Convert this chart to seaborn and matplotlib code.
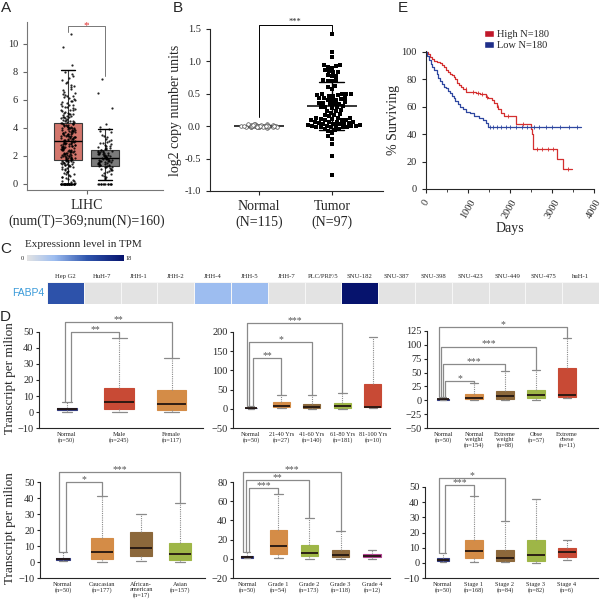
import numpy as np
import pandas as pd
import matplotlib
matplotlib.use('Agg')
import matplotlib.pyplot as plt
import seaborn as sns
from matplotlib.colors import LinearSegmentedColormap
from matplotlib.patches import Patch
from matplotlib.ticker import MultipleLocator

# ---------------- data ----------------
# A: GEPIA LIHC box plot (min, q1, median, q3, max) and jittered points
a_groups = ['Tumor', 'Normal']
a_tumor_box = [0.0, 1.7, 3.05, 4.35, 8.15]
a_normal_box = [0.3, 1.3, 1.85, 2.45, 3.95]
a_tumor_points = [0, 0, 0, 0, 0, 0, 0, 0, 0, 0, 0, 0, 0, 0, 0, 0, 0, 0, 0, 0, 0, 0,
                  0, 0, 0, 0, 0, 0, 0, 0,
                  0.08, 0.15, 0.22, 0.3, 0.41, 0.48, 0.57, 0.63, 0.72, 0.8, 0.86, 0.95,
                  1.03, 1.1, 1.16, 1.21, 1.28, 1.33, 1.37, 1.44, 1.48, 1.52, 1.57, 1.61,
                  1.64, 1.69, 1.72, 1.76, 1.8, 1.84, 1.87, 1.91, 1.95, 1.98, 2.03, 2.06,
                  2.1, 2.14, 2.17, 2.21, 2.26, 2.3, 2.33, 2.38, 2.42, 2.46, 2.5, 2.55,
                  2.59, 2.62, 2.67, 2.71, 2.74, 2.79, 2.83, 2.88, 2.92, 2.96, 3.01, 3.05,
                  3.1, 3.14, 3.19, 3.23, 3.28, 3.32, 3.37, 3.42, 3.46, 3.51, 3.55, 3.6,
                  3.66, 3.7, 3.75, 3.81, 3.86, 3.92, 3.97, 4.03, 4.09, 4.15, 4.22, 4.28,
                  4.35, 4.41, 4.49, 4.56, 4.64, 4.72, 4.8, 4.89, 4.97, 5.06, 5.15, 5.26,
                  5.36, 5.48, 5.6, 5.72, 5.85, 5.98, 6.12, 6.27, 6.43, 6.6, 6.78, 6.97,
                  7.18, 7.42, 7.7, 8.0, 8.5, 9.8, 10.7,
                  1.54, 1.66, 1.78, 1.89, 2.0, 2.12, 2.24, 2.35, 2.47, 2.57, 2.69, 2.81,
                  2.9, 3.03, 3.12, 3.25, 3.35, 3.44, 3.57, 3.68, 3.78, 3.9, 4.0, 4.12,
                  4.25, 4.38, 4.52, 4.68, 4.85, 5.02, 5.2, 5.4, 5.66, 5.9, 6.2, 6.5,
                  1.4, 1.62, 1.83, 2.08, 2.28, 2.52, 2.76, 2.98, 3.16, 3.4, 3.63, 3.84,
                  4.06, 4.3,
                  0.18, 0.36, 0.52, 0.69, 0.88, 1.06, 1.19, 1.35, 1.46, 1.59, 1.74, 1.86,
                  1.97, 2.11, 2.2, 2.32, 2.44, 2.61, 2.7, 2.85, 2.95, 3.07, 3.2, 3.31,
                  3.45, 3.53, 3.65, 3.74, 3.88, 3.99, 4.1, 4.2, 4.33, 4.46, 4.6, 4.77,
                  4.93, 5.1, 5.31, 5.52, 5.77, 6.05, 6.35, 6.7, 7.05, 7.55, 1.25, 1.5,
                  1.7, 1.93, 2.16, 2.4, 2.64, 2.87, 3.09, 3.34, 3.58, 3.79, 4.01, 4.24,
                  4.5, 4.75, 5.0, 5.3, 5.62, 5.95, 6.3, 6.9, 7.3, 7.85]
a_normal_points = [0, 0, 0, 0, 0, 0, 0, 0, 0, 0, 0, 0,
                   0.32, 0.45, 0.58, 0.66, 0.74, 0.82, 0.9, 0.97,
                   1.04, 1.1, 1.15, 1.2, 1.24, 1.29, 1.33, 1.37, 1.41, 1.45, 1.49, 1.53,
                   1.57, 1.61, 1.65, 1.69, 1.73, 1.77, 1.81, 1.85, 1.89, 1.93, 1.97, 2.01,
                   2.05, 2.1, 2.14, 2.19, 2.24, 2.29, 2.34, 2.4, 2.46, 2.53, 2.6, 2.68,
                   2.77, 2.86, 2.96, 3.07, 3.2, 3.35, 3.52, 3.7, 3.9, 4.1, 4.3, 5.4, 6.5,
                   7.5, 1.3, 1.5, 1.7, 1.9, 2.2, 2.5, 1.6, 1.8, 2.0, 2.3,
                   0.5, 0.78, 1.02, 1.18, 1.35, 1.44, 1.56, 1.67, 1.75, 1.84, 1.95, 2.07,
                   2.16, 2.27, 2.38, 2.55, 2.72, 2.9, 3.12, 3.45, 1.26, 1.62, 1.87, 2.12,
                   2.36, 2.63, 3.0, 3.8]

# B: log2 copy number
b_groups = ['Normal', 'Tumor']
b_labels = ['Normal\n(N=115)', 'Tumor\n(N=97)']
b_normal = [0.0, 0.01, -0.01, 0.02, -0.02, 0.0, 0.03, -0.01, 0.01, 0.0, 0.02, -0.02,
            0.01, 0.0, -0.01, 0.03, 0.02, 0.0, -0.03, 0.01, 0.0, 0.02, -0.01, 0.01,
            0.0, 0.04, -0.02, 0.0, 0.01, -0.01, 0.02, 0.0, 0.01, -0.02, 0.03, 0.0,
            -0.01, 0.01, 0.02, 0.0, -0.01, 0.0, 0.01, 0.02, -0.02]
b_tumor = [1.43, 1.14, 1.07, 0.95, 0.94, 0.93, 0.91, 0.90, 0.86, 0.85, 0.84, 0.83,
           0.79, 0.78, 0.77, 0.72, 0.71, 0.70, 0.69, 0.62, 0.60, 0.57,
           0.50, 0.50, 0.49, 0.49, 0.48, 0.48, 0.47, 0.46,
           0.44, 0.43, 0.43, 0.42, 0.41, 0.40, 0.40,
           0.37, 0.36, 0.36, 0.35, 0.35, 0.34, 0.31, 0.30, 0.30, 0.29, 0.28,
           0.25, 0.24, 0.23, 0.21, 0.19, 0.18, 0.17, 0.15,
           0.13, 0.12, 0.12, 0.11, 0.11, 0.10, 0.10, 0.09, 0.09,
           0.07, 0.07, 0.06, 0.06, 0.05, 0.05, 0.04, 0.04, 0.04, 0.03,
           0.02, 0.02, 0.01, 0.01, 0.00, 0.00, 0.00, -0.01, -0.01, -0.01, -0.02, -0.02,
           -0.04, -0.05, -0.06, -0.07, -0.11, -0.15, -0.19, -0.27, -0.46, -0.75]

# C: FABP4 expression in cell lines (TPM)
cell_lines = ['Hep G2', 'HuH-7', 'JHH-1', 'JHH-2', 'JHH-4', 'JHH-5', 'JHH-7',
              'PLC/PRF/5', 'SNU-182', 'SNU-387', 'SNU-398', 'SNU-423', 'SNU-449',
              'SNU-475', 'huH-1']
fabp4_tpm = [11.5, 0, 0, 0, 5.0, 5.0, 0, 0, 18, 0, 0, 0, 0, 0, 0]

# D: UALCAN box plots, each group = (min, q1, median, q3, max)
sex_groups = ['Normal\n(n=50)', 'Male\n(n=245)', 'Female\n(n=117)']
sex_stats = [[0, 1, 2, 2.7, 6.3], [0, 2, 6, 15, 46], [0, 1.3, 4.7, 13.7, 33.5]]
age_groups = ['Normal\n(n=50)', '21-40 Yrs\n(n=27)', '41-60 Yrs\n(n=140)',
              '61-80 Yrs\n(n=181)', '81-100 Yrs\n(n=10)']
age_stats = [[0, 1, 2, 3, 7], [2, 5, 7, 17, 37], [0, 2, 5, 12, 37],
             [0, 3, 8, 15, 42], [2, 4, 5, 64, 188]]
weight_groups = ['Normal\n(n=50)', 'Normal\nweight\n(n=154)', 'Extreme\nweight\n(n=88)',
                 'Obse\n(n=57)', 'Extreme\nobese\n(n=11)']
weight_stats = [[0, 1, 2, 3, 6], [0, 2, 5, 11, 31], [0, 3, 8, 17, 52],
                [0, 4, 9.5, 19, 54], [3.5, 6, 10, 58, 112]]
race_groups = ['Normal\n(n=50)', 'Caucasian\n(n=177)', 'African-\namerican\n(n=17)',
               'Asian\n(n=157)']
race_stats = [[0.5, 1, 1.8, 2.5, 6.5], [0, 2, 6.2, 15, 41.5], [0.5, 4, 8.5, 18.8, 30],
              [0, 1.5, 4.8, 12, 37]]
grade_groups = ['Normal\n(n=50)', 'Grade 1\n(n=54)', 'Grade 2\n(n=173)',
                'Grade 3\n(n=118)', 'Grade 4\n(n=12)']
grade_stats = [[0.5, 1, 2, 3, 7], [0.5, 4.5, 13, 30, 67], [0, 2.5, 6.5, 14, 42],
               [0, 1.5, 4, 9.5, 29], [0, 1.5, 2.5, 4.5, 9.5]]
stage_groups = ['Normal\n(n=50)', 'Stage 1\n(n=168)', 'Stage 2\n(n=84)',
                'Stage 3\n(n=82)', 'Stage 4\n(n=6)']
stage_stats = [[0.5, 1.2, 2, 3, 6.5], [0.5, 3, 8, 15, 44], [0.5, 1.5, 3.2, 8.5, 27.5],
               [0, 1, 5, 15, 42], [2, 4, 7, 9.5, 15]]

# E: Kaplan-Meier steps
high_days = [0, 40, 90, 140, 200, 260, 330, 380, 430, 480, 520, 570, 620, 660, 700,
             740, 780, 840, 890, 960, 1200, 1290, 1420, 1480, 1560, 1620, 1680, 1720,
             1780, 1850, 2140, 2490, 2520, 2550, 3130, 3260, 3480]
high_surv = [100, 98, 96, 95, 93.5, 92.5, 91.5, 90, 88.5, 87, 85.5, 84, 83, 81.5, 80,
             77.5, 75.5, 74, 73, 71, 70, 69, 67, 66, 64.5, 62.5, 60, 58, 55.5, 53.5,
             47, 44, 40, 29, 21.5, 14.5, 14.5]
low_days = [0, 30, 70, 110, 150, 200, 250, 290, 330, 380, 420, 470, 530, 580, 620, 660,
            700, 750, 800, 870, 950, 1050, 1150, 1250, 1350, 1420, 1480, 3680]
low_surv = [100, 97, 94, 91, 89, 86.5, 84, 81, 79, 76.5, 74.5, 73.5, 71.5, 70, 68, 66,
            64, 62, 59.5, 58, 56, 55, 53.5, 52, 50, 48, 45.5, 45.5]
high_censor = [950, 1120, 1240, 1330, 1460, 1710, 1950, 2300, 2650, 2750, 2900, 3020, 3380]
low_censor = [1520, 1600, 1680, 1790, 1900, 2010, 2150, 2290, 2400, 2560, 2700, 2850,
              3000, 3200, 3400, 3600]

# ---------------- style ----------------
sns.set_style('ticks')
plt.rcParams['font.family'] = ['Liberation Serif', 'DejaVu Serif']
plt.rcParams['axes.linewidth'] = 0.8
plt.rcParams['xtick.major.width'] = 0.8
plt.rcParams['ytick.major.width'] = 0.8
SANS = ['Liberation Sans', 'DejaVu Sans']

NAVY, RED, ORANGE = '#27318a', '#e0381d', '#ec8b2f'
BROWN, GREEN, MAGENTA = '#9a6a2d', '#a8c934', '#c4309a'

W, H = 603, 604
fig = plt.figure(figsize=(W / 100, H / 100), dpi=100)


def px_axes(l, t, r, b):
    return fig.add_axes([l / W, 1 - b / H, (r - l) / W, (b - t) / H])


def ftext(x, y, s, **kw):
    fig.text(x / W, 1 - y / H, s, **kw)


for lab, (x, y) in zip('ABCDE', [(6, 8), (178, 8), (6, 249), (5, 317), (403, 8)]):
    ftext(x, y, lab, family=SANS, fontsize=11, ha='center', va='center')

# ---------------- A ----------------
axA = px_axes(27, 22, 163, 190)
a_box_df = pd.DataFrame({'group': np.repeat(a_groups, 5), 'tpm': a_tumor_box + a_normal_box})
sns.boxplot(data=a_box_df, x='group', y='tpm', hue='group', order=a_groups,
            hue_order=a_groups, palette=['#e4685b', '#7b7b7b'], width=0.78,
            whis=(0, 100), linecolor='#3a3a3a', linewidth=0.8, legend=False,
            medianprops=dict(color='black', linewidth=1.0),
            capprops=dict(color='black', linewidth=1.0), ax=axA)
a_pts = pd.DataFrame({'group': ['Tumor'] * len(a_tumor_points) + ['Normal'] * len(a_normal_points),
                      'tpm': a_tumor_points + a_normal_points})
np.random.seed(3)
sns.stripplot(data=a_pts, x='group', y='tpm', order=a_groups, color='black', size=1.6,
              jitter=0.2, alpha=0.85, zorder=3, ax=axA)
axA.set_xlim(-1.11, 2.57)
axA.set_ylim(-0.43, 11.57)
axA.set_yticks(range(0, 11, 2))
axA.set_xticks([0.5])
axA.set_xticklabels(['LIHC\n(num(T)=369;num(N)=160)'], fontsize=10)
axA.tick_params(axis='y', labelsize=7.5, length=3, color='#666')
axA.tick_params(axis='x', length=3, color='#666')
axA.set_xlabel('')
axA.set_ylabel('')
for s in ['top', 'right']:
    axA.spines[s].set_visible(False)
for s in ['left', 'bottom']:
    axA.spines[s].set_color('#777')
axA.plot([0, 0, 1, 1], [10.85, 11.3, 11.3, 7.7], color='#777', lw=0.7, clip_on=False)
axA.text(0.5, 11.3, '*', color='#e03030', fontsize=8, ha='center', va='center')

# ---------------- B ----------------
axB = px_axes(210, 29, 383, 191)
b_df = pd.DataFrame({'group': ['Normal'] * len(b_normal) + ['Tumor'] * len(b_tumor),
                     'value': b_normal + b_tumor})
sns.stripplot(data=b_df[b_df.group == 'Normal'], x='group', y='value', order=b_groups,
              jitter=0.25, size=2.6, color='white', edgecolor='#555', linewidth=0.5, ax=axB)
sns.swarmplot(data=b_df[b_df.group == 'Tumor'], x='group', y='value', order=b_groups,
              marker='s', size=3.0, color='black', ax=axB)
sns.pointplot(data=b_df, x='group', y='value', order=b_groups, errorbar='sd',
              capsize=0.34, color='black', markers='_', markersize=36,
              markeredgewidth=1.1, linestyle='none', err_kws={'linewidth': 1.0}, ax=axB)
axB.set_xlim(-0.67, 1.70)
axB.set_ylim(-1.0, 1.5)
axB.set_yticks([-1.0, -0.5, 0.0, 0.5, 1.0, 1.5])
axB.set_yticklabels(['-1.0', '-0.5', '0.0', '0.5', '1.0', '1.5'])
axB.set_xticks([0, 1])
axB.set_xticklabels(b_labels, fontsize=10)
axB.tick_params(axis='y', labelsize=7.5, length=3)
axB.tick_params(axis='x', length=3)
axB.set_xlabel('')
axB.set_ylabel('log2 copy number units', fontsize=10, labelpad=2)
sns.despine(ax=axB)
axB.plot([0, 0, 1, 1], [0.14, 1.56, 1.56, 1.46], color='black', lw=0.7, clip_on=False)
axB.text(0.5, 1.55, '***', fontsize=6, ha='center', va='bottom')

# ---------------- C ----------------
axC = px_axes(47, 282, 599, 304)
caxC = px_axes(27, 255, 124, 261)
cmapC = LinearSegmentedColormap.from_list(
    'tpm', [(0, '#e3e3e3'), (0.28, '#9dbdf0'), (0.62, '#2f55ad'), (1, '#06136d')])
sns.heatmap(pd.DataFrame([fabp4_tpm], index=['FABP4'], columns=cell_lines), cmap=cmapC,
            vmin=0, vmax=18, linewidths=0.4, linecolor='#f6f6f6', cbar_ax=caxC,
            cbar_kws={'orientation': 'horizontal'}, ax=axC)
axC.xaxis.tick_top()
axC.set_xticks(np.arange(len(cell_lines)) + 0.5)
axC.set_xticklabels(cell_lines, fontsize=4.8, rotation=0)
axC.set_yticklabels(['FABP4'], rotation=0, fontsize=7.5, color='#3a9ad9', family=SANS)
axC.tick_params(length=0, pad=2)
axC.set_xlabel('')
axC.set_ylabel('')
caxC.set_xticks([])
caxC.set_yticks([])
for sp in caxC.spines.values():
    sp.set_visible(False)
ftext(25, 244, 'Expressionn level in TPM', fontsize=8, va='center')
ftext(22, 258, '0', fontsize=4.6, ha='center', va='center')
ftext(129, 258, '18', fontsize=4.6, ha='center', va='center')

# ---------------- D ----------------
d_panels = [
    dict(groups=sex_groups, stats=sex_stats, colors=[NAVY, RED, ORANGE],
         rect=(39, 332, 203, 428), ylim=(-10, 50), step=10, xlim=(-0.53, 2.6),
         brackets=[(1, 0.09, 50, '**'), (2, -0.04, 56, '**')], ylabel=True),
    dict(groups=age_groups, stats=age_stats, colors=[NAVY, ORANGE, BROWN, GREEN, RED],
         rect=(233, 332, 390, 428), ylim=(-50, 200), step=50, xlim=(-0.59, 4.56),
         brackets=[(1, 0.05, 133, '**'), (2, -0.05, 175, '*'), (3, -0.13, 224, '***')],
         ylabel=False),
    dict(groups=weight_groups, stats=weight_stats, colors=[NAVY, ORANGE, BROWN, GREEN, RED],
         rect=(427, 331, 598, 428), ylim=(-50, 125), step=25, xlim=(-0.52, 5.0),
         brackets=[(1, 0.06, 35, '*'), (2, 0.0, 65, '***'), (3, -0.06, 97, '***'),
                   (4, -0.13, 132, '*')], ylabel=False),
    dict(groups=race_groups, stats=race_stats, colors=[NAVY, ORANGE, BROWN, GREEN],
         rect=(40, 482, 205, 578), ylim=(-10, 50), step=10, xlim=(-0.59, 3.64),
         brackets=[(1, 0.08, 50, '*'), (3, -0.1, 56.5, '***')], ylabel=True),
    dict(groups=grade_groups, stats=grade_stats, colors=[NAVY, ORANGE, GREEN, BROWN, MAGENTA],
         rect=(233, 482, 390, 578), ylim=(-20, 80), step=20, xlim=(-0.45, 4.58),
         brackets=[(1, 0.06, 74, '***'), (2, -0.03, 82, '**'), (3, -0.13, 90, '***')],
         ylabel=False),
    dict(groups=stage_groups, stats=stage_stats, colors=[NAVY, ORANGE, BROWN, GREEN, RED],
         rect=(425, 487, 598, 578), ylim=(-10, 50), step=10, xlim=(-0.58, 5.0),
         brackets=[(1, 0.06, 51, '***'), (2, -0.13, 56, '*')], ylabel=False),
]

for p in d_panels:
    ax = px_axes(*p['rect'])
    groups = p['groups']
    df = pd.DataFrame({'group': np.repeat(groups, 5), 'value': np.concatenate(p['stats'])})
    common = dict(x='group', y='value', hue='group', order=groups, hue_order=groups,
                  palette=dict(zip(groups, p['colors'])), whis=(0, 100), legend=False,
                  linewidth=0.8,
                  whiskerprops=dict(color='#8a8a8a', linestyle=(0, (1, 1)), linewidth=0.8),
                  capprops=dict(color='#8a8a8a', linewidth=0.9),
                  medianprops=dict(color='#221510', linewidth=1.3), ax=ax)
    sns.boxplot(data=df[df.group == groups[0]], width=0.38, **common)
    sns.boxplot(data=df[df.group != groups[0]], width=0.56, **common)
    for patch in ax.patches:
        patch.set_edgecolor(patch.get_facecolor())
    ax.set_xlim(*p['xlim'])
    ax.set_ylim(*p['ylim'])
    ax.yaxis.set_major_locator(MultipleLocator(p['step']))
    ax.set_xticks(range(len(groups)))
    ax.set_xticklabels(groups, fontsize=4.6, linespacing=1.0)
    ax.tick_params(axis='x', length=0, pad=3)
    ax.tick_params(axis='y', labelsize=7.5, length=2.5, pad=1.5)
    ax.set_xlabel('')
    if p['ylabel']:
        ax.set_ylabel('Transcript per milion', fontsize=9.5)
        ax.yaxis.set_label_coords((16 - p['rect'][0]) / (p['rect'][2] - p['rect'][0]), 0.52)
    else:
        ax.set_ylabel('')
    sns.despine(ax=ax)
    normal_max = p['stats'][0][4]
    for tgt, off, yb, star in p['brackets']:
        ax.plot([off, off, tgt, tgt], [normal_max, yb, yb, p['stats'][tgt][4]],
                color='#8a8a8a', lw=0.9, clip_on=False)
        ax.annotate(star, ((off + tgt) / 2, yb), xytext=(0, -1.5), textcoords='offset points',
                    ha='center', va='bottom', fontsize=7, color='#555',
                    annotation_clip=False)

# ---------------- E ----------------
axE = px_axes(426, 51, 594, 189)
km_df = pd.concat([
    pd.DataFrame({'days': high_days, 'surv': high_surv, 'group': 'High N=180'}),
    pd.DataFrame({'days': low_days, 'surv': low_surv, 'group': 'Low N=180'})])
km_colors = ['#d42f2f', '#2e47a0']
sns.lineplot(data=km_df, x='days', y='surv', hue='group', palette=km_colors,
             drawstyle='steps-post', estimator=None, linewidth=0.9, legend=False, ax=axE)


def step_value(days, surv, t):
    idx = np.searchsorted(days, t, side='right') - 1
    return np.asarray(surv)[idx]


axE.plot(high_censor, step_value(high_days, high_surv, high_censor), ls='none', marker='|',
         ms=3, mew=0.6, color=km_colors[0])
axE.plot(low_censor, step_value(low_days, low_surv, low_censor), ls='none', marker='|',
         ms=3, mew=0.6, color=km_colors[1])
axE.set_xlim(0, 4000)
axE.set_ylim(0, 100.5)
axE.set_yticks(range(0, 101, 20))
axE.set_xticks(range(0, 4001, 1000))
axE.xaxis.set_minor_locator(MultipleLocator(500))
axE.tick_params(axis='x', labelsize=7.5, rotation=60, length=3)
axE.tick_params(axis='x', which='minor', length=2)
axE.tick_params(axis='y', labelsize=7.5, length=3)
axE.set_xlabel('Days', fontsize=10, labelpad=1)
axE.set_ylabel('% Surviving', fontsize=10, labelpad=1)
sns.despine(ax=axE)
axE.legend(handles=[Patch(facecolor='#c0182a', label='High N=180'),
                    Patch(facecolor='#1f2f8a', label='Low N=180')],
           loc='upper left', bbox_to_anchor=(0.32, 1.18), frameon=False, fontsize=7.5,
           handlelength=1.0, handleheight=0.6, handletextpad=0.3, labelspacing=0.2,
           borderaxespad=0)

fig.savefig('out.png', dpi=100)
